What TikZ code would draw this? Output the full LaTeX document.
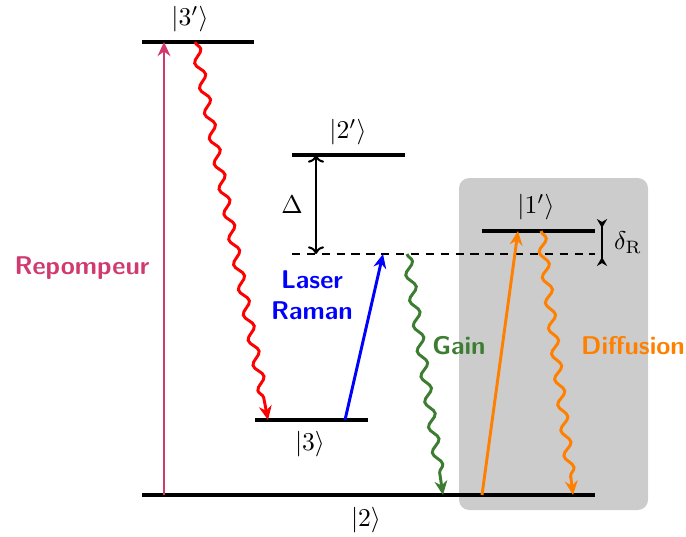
\documentclass[tikz,border=0pt]{standalone}
\usetikzlibrary{arrows.meta,decorations.pathmorphing}
\definecolor{repomp}{RGB}{208,58,110}
\definecolor{gaingreen}{RGB}{60,125,50}
\definecolor{diforange}{RGB}{255,128,0}
\definecolor{boxgray}{RGB}{204,204,204}
\begin{document}
\begin{tikzpicture}[x=0.39pt,y=-0.39pt,
  level/.style={line width=1.3pt},
  ket/.style={inner sep=0pt},
  proc/.style={font=\sffamily\bfseries, align=center, inner sep=0pt},
  straightarr/.style={line width=1.15pt, -{Stealth[length=5.5pt,width=5pt]}},
  wave/.style={line width=1.15pt, -{Stealth[length=5.5pt,width=5pt]}, decorate,
    decoration={snake, amplitude=1.7pt, segment length=10pt, post length=2.5mm}},
  gap/.style={line width=0.8pt}
]
\useasboundingbox (0,0) rectangle (686,536);
% gray box
\fill[boxgray, rounded corners=4pt] (459,178) rectangle (648,510);

% levels
\draw[level] (142,42) coordinate (L3pa) -- (254,42) coordinate (L3pb);
\draw[level] (292,155) coordinate (L2pa) -- (405,155) coordinate (L2pb);
\draw[level] (482,231) coordinate (L1pa) -- (595,231) coordinate (L1pb);
\draw[level] (255,420) coordinate (L3a) -- (368,420) coordinate (L3b);
\draw[level] (142,495) coordinate (L2a) -- (595,495) coordinate (L2b);
\draw[line width=0.8pt, dash pattern=on 3.2pt off 2.6pt] (292,254) coordinate (Va) -- (595,254) coordinate (Vb);

% kets
\node[ket] (k3p) at (190,19) {$|3'\rangle$};
\node[ket] (k2p) at (348,132) {$|2'\rangle$};
\node[ket] (k1p) at (536,207) {$|1'\rangle$};
\node[ket] (k3) at (310,444) {$|3\rangle$};
\node[ket] (k2) at (366,520) {$|2\rangle$};

% connector end points
\coordinate (rpA) at (164,495); \coordinate (rpB) at (164,42);
\coordinate (rdA) at (195,42);  \coordinate (rdB) at (268,420);
\coordinate (blA) at (345,420); \coordinate (blB) at (383,254);
\coordinate (grA) at (407,254); \coordinate (grB) at (443,495);
\coordinate (orA) at (482,495); \coordinate (orB) at (518,231);
\coordinate (owA) at (541,231); \coordinate (owB) at (573,495);
\coordinate (dA) at (316,155);  \coordinate (dB) at (316,254);
\coordinate (dRa) at (602,219); \coordinate (dRb) at (602,266);

% transitions
\draw[straightarr, repomp] (rpA) -- (rpB);
\draw[wave, red] (rdA) -- (rdB);
\draw[straightarr, blue] (blA) -- (blB);
\draw[wave, gaingreen] (grA) -- (grB);
\draw[straightarr, diforange] (orA) -- (orB);
\draw[wave, diforange] (owA) -- (owB);

% detunings
\draw[gap, {To[length=3pt]}-{To[length=3pt]}] (dA) -- (dB);
\draw[gap, {Stealth[length=3.5pt,width=4pt,reversed]}-{Stealth[length=3.5pt,width=4pt,reversed]}] (dRa) -- (dRb);
\node (Delta) at (292,205) {$\Delta$};
\node (dR) at (628,243) {$\delta_{\mathrm{R}}$};

% labels
\node[proc, text=repomp] (lrep) at (82,268) {Repompeur};
\node[proc, text=blue] (lraman) at (312,295) {Laser\\Raman};
\node[proc, text=gaingreen] (lgain) at (459,346) {Gain};
\node[proc, text=diforange] (ldiff) at (633,346) {Diffusion};
\end{tikzpicture}
\end{document}
